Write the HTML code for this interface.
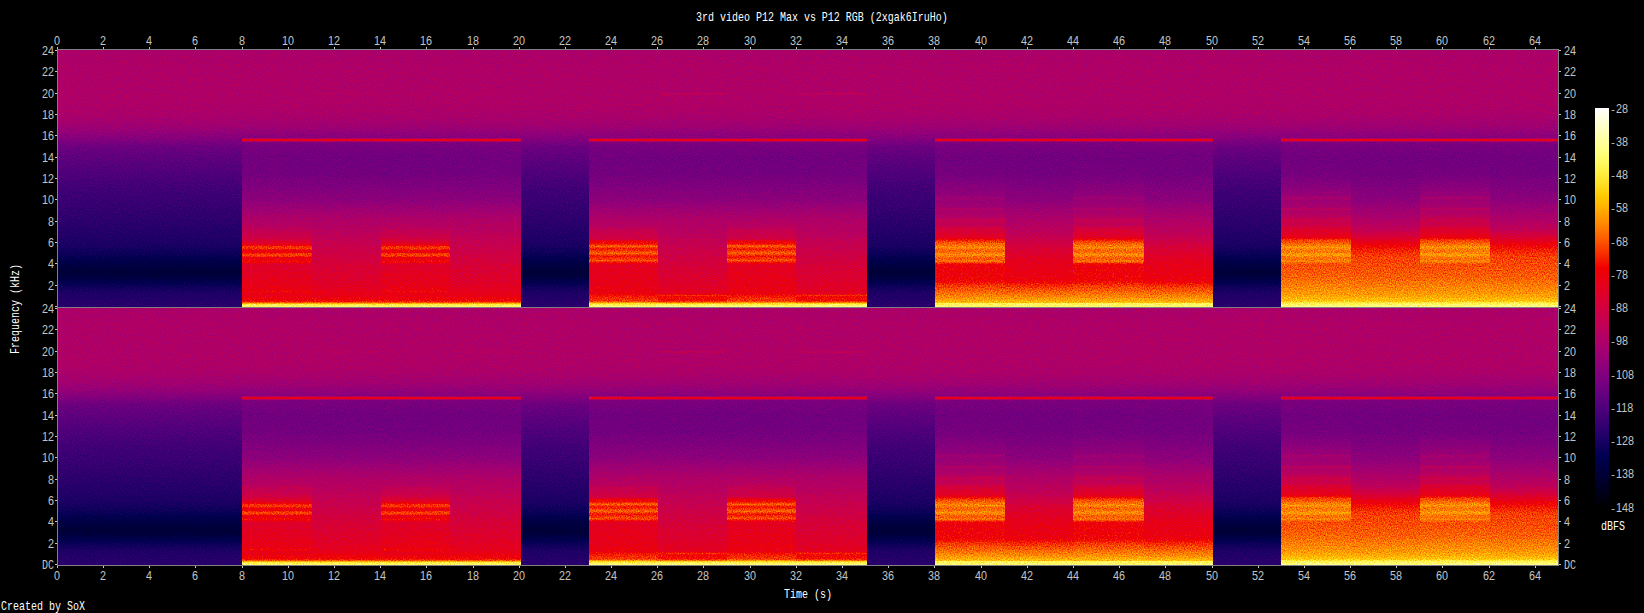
<!DOCTYPE html>
<html><head><meta charset="utf-8"><title>Spectrogram</title>
<style>
html,body{margin:0;padding:0;background:#000;}
body{width:1644px;height:613px;overflow:hidden;}
svg{display:block;}
text{font-family:"Liberation Mono","DejaVu Sans Mono",monospace;font-size:13.6px;}
text.n{font-family:"Liberation Sans","DejaVu Sans",sans-serif;font-size:12.5px;}
</style></head><body>
<svg width="1644" height="613" viewBox="0 0 1644 613" shape-rendering="crispEdges">
<defs>
<linearGradient id="gQ" x1="0" y1="0" x2="0" y2="1"><stop offset="0.0019" stop-color="#696969"/><stop offset="0.0642" stop-color="#6b6b6b"/><stop offset="0.2095" stop-color="#6b6b6b"/><stop offset="0.2510" stop-color="#696969"/><stop offset="0.2925" stop-color="#646464"/><stop offset="0.3257" stop-color="#5c5c5c"/><stop offset="0.3464" stop-color="#565656"/><stop offset="0.3755" stop-color="#4c4c4c"/><stop offset="0.4585" stop-color="#424242"/><stop offset="0.5415" stop-color="#3a3a3a"/><stop offset="0.6245" stop-color="#353535"/><stop offset="0.7075" stop-color="#2f2f2f"/><stop offset="0.7490" stop-color="#2c2c2c"/><stop offset="0.7905" stop-color="#262626"/><stop offset="0.8154" stop-color="#202020"/><stop offset="0.8403" stop-color="#1a1a1a"/><stop offset="0.8611" stop-color="#161616"/><stop offset="0.8818" stop-color="#181818"/><stop offset="0.9026" stop-color="#202020"/><stop offset="0.9233" stop-color="#272727"/><stop offset="0.9482" stop-color="#2d2d2d"/><stop offset="0.9981" stop-color="#313131"/></linearGradient>
<linearGradient id="gL1N" x1="0" y1="0" x2="0" y2="1"><stop offset="0.0019" stop-color="#696969"/><stop offset="0.0642" stop-color="#6b6b6b"/><stop offset="0.2095" stop-color="#6b6b6b"/><stop offset="0.2510" stop-color="#696969"/><stop offset="0.2925" stop-color="#646464"/><stop offset="0.3257" stop-color="#5c5c5c"/><stop offset="0.3464" stop-color="#565656"/><stop offset="0.3630" stop-color="#525252"/><stop offset="0.4170" stop-color="#4e4e4e"/><stop offset="0.4834" stop-color="#4f4f4f"/><stop offset="0.5830" stop-color="#5a5a5a"/><stop offset="0.6556" stop-color="#6a6a6a"/><stop offset="0.7075" stop-color="#717171"/><stop offset="0.7490" stop-color="#777777"/><stop offset="0.7905" stop-color="#7c7c7c"/><stop offset="0.8320" stop-color="#828282"/><stop offset="0.8735" stop-color="#868686"/><stop offset="0.9150" stop-color="#8a8a8a"/><stop offset="0.9524" stop-color="#909090"/><stop offset="0.9732" stop-color="#979797"/><stop offset="0.9806" stop-color="#9f9f9f"/><stop offset="0.9856" stop-color="#bbbbbb"/><stop offset="0.9906" stop-color="#d7d7d7"/><stop offset="0.9981" stop-color="#dddddd"/></linearGradient>
<linearGradient id="gL1B" x1="0" y1="0" x2="0" y2="1"><stop offset="0.0019" stop-color="#696969"/><stop offset="0.0642" stop-color="#6b6b6b"/><stop offset="0.2095" stop-color="#6b6b6b"/><stop offset="0.2510" stop-color="#696969"/><stop offset="0.2925" stop-color="#646464"/><stop offset="0.3257" stop-color="#5c5c5c"/><stop offset="0.3464" stop-color="#565656"/><stop offset="0.3630" stop-color="#525252"/><stop offset="0.4170" stop-color="#4e4e4e"/><stop offset="0.4834" stop-color="#4f4f4f"/><stop offset="0.5830" stop-color="#5a5a5a"/><stop offset="0.6556" stop-color="#6a6a6a"/><stop offset="0.6909" stop-color="#707070"/><stop offset="0.6992" stop-color="#757575"/><stop offset="0.7283" stop-color="#7b7b7b"/><stop offset="0.7490" stop-color="#888888"/><stop offset="0.7594" stop-color="#939393"/><stop offset="0.7648" stop-color="#a2a2a2"/><stop offset="0.7739" stop-color="#a4a4a4"/><stop offset="0.7793" stop-color="#939393"/><stop offset="0.7885" stop-color="#959595"/><stop offset="0.7926" stop-color="#a4a4a4"/><stop offset="0.8022" stop-color="#a6a6a6"/><stop offset="0.8071" stop-color="#939393"/><stop offset="0.8154" stop-color="#939393"/><stop offset="0.8217" stop-color="#999999"/><stop offset="0.8258" stop-color="#999999"/><stop offset="0.8300" stop-color="#8e8e8e"/><stop offset="0.8362" stop-color="#888888"/><stop offset="0.8735" stop-color="#8c8c8c"/><stop offset="0.9150" stop-color="#8f8f8f"/><stop offset="0.9337" stop-color="#929292"/><stop offset="0.9399" stop-color="#989898"/><stop offset="0.9462" stop-color="#929292"/><stop offset="0.9524" stop-color="#909090"/><stop offset="0.9732" stop-color="#979797"/><stop offset="0.9806" stop-color="#9f9f9f"/><stop offset="0.9856" stop-color="#bbbbbb"/><stop offset="0.9906" stop-color="#d7d7d7"/><stop offset="0.9981" stop-color="#dddddd"/></linearGradient>
<linearGradient id="gL2N" x1="0" y1="0" x2="0" y2="1"><stop offset="0.0019" stop-color="#696969"/><stop offset="0.0642" stop-color="#6b6b6b"/><stop offset="0.2095" stop-color="#6b6b6b"/><stop offset="0.2510" stop-color="#696969"/><stop offset="0.2925" stop-color="#646464"/><stop offset="0.3257" stop-color="#5c5c5c"/><stop offset="0.3464" stop-color="#565656"/><stop offset="0.3630" stop-color="#525252"/><stop offset="0.4170" stop-color="#4e4e4e"/><stop offset="0.4834" stop-color="#4f4f4f"/><stop offset="0.5830" stop-color="#5a5a5a"/><stop offset="0.6556" stop-color="#6a6a6a"/><stop offset="0.7075" stop-color="#707070"/><stop offset="0.7490" stop-color="#767676"/><stop offset="0.7905" stop-color="#7b7b7b"/><stop offset="0.8320" stop-color="#818181"/><stop offset="0.8735" stop-color="#858585"/><stop offset="0.9150" stop-color="#898989"/><stop offset="0.9482" stop-color="#8d8d8d"/><stop offset="0.9545" stop-color="#a2a2a2"/><stop offset="0.9607" stop-color="#979797"/><stop offset="0.9752" stop-color="#9b9b9b"/><stop offset="0.9815" stop-color="#a8a8a8"/><stop offset="0.9856" stop-color="#c8c8c8"/><stop offset="0.9898" stop-color="#d9d9d9"/><stop offset="0.9981" stop-color="#e1e1e1"/></linearGradient>
<linearGradient id="gL2B" x1="0" y1="0" x2="0" y2="1"><stop offset="0.0019" stop-color="#696969"/><stop offset="0.0642" stop-color="#6b6b6b"/><stop offset="0.2095" stop-color="#6b6b6b"/><stop offset="0.2510" stop-color="#696969"/><stop offset="0.2925" stop-color="#646464"/><stop offset="0.3257" stop-color="#5c5c5c"/><stop offset="0.3464" stop-color="#565656"/><stop offset="0.3630" stop-color="#525252"/><stop offset="0.4170" stop-color="#4e4e4e"/><stop offset="0.4834" stop-color="#4f4f4f"/><stop offset="0.5830" stop-color="#5a5a5a"/><stop offset="0.6556" stop-color="#6a6a6a"/><stop offset="0.6909" stop-color="#717171"/><stop offset="0.6992" stop-color="#777777"/><stop offset="0.7366" stop-color="#7e7e7e"/><stop offset="0.7428" stop-color="#939393"/><stop offset="0.7532" stop-color="#999999"/><stop offset="0.7636" stop-color="#aeaeae"/><stop offset="0.7739" stop-color="#9b9b9b"/><stop offset="0.7905" stop-color="#aeaeae"/><stop offset="0.8030" stop-color="#9b9b9b"/><stop offset="0.8196" stop-color="#aaaaaa"/><stop offset="0.8279" stop-color="#999999"/><stop offset="0.8341" stop-color="#8c8c8c"/><stop offset="0.8735" stop-color="#8e8e8e"/><stop offset="0.9150" stop-color="#909090"/><stop offset="0.9482" stop-color="#939393"/><stop offset="0.9586" stop-color="#9e9e9e"/><stop offset="0.9773" stop-color="#a4a4a4"/><stop offset="0.9823" stop-color="#b7b7b7"/><stop offset="0.9873" stop-color="#d2d2d2"/><stop offset="0.9981" stop-color="#e1e1e1"/></linearGradient>
<linearGradient id="gL3N" x1="0" y1="0" x2="0" y2="1"><stop offset="0.0019" stop-color="#696969"/><stop offset="0.0642" stop-color="#6b6b6b"/><stop offset="0.2095" stop-color="#6b6b6b"/><stop offset="0.2510" stop-color="#696969"/><stop offset="0.2925" stop-color="#646464"/><stop offset="0.3257" stop-color="#5c5c5c"/><stop offset="0.3464" stop-color="#565656"/><stop offset="0.3630" stop-color="#525252"/><stop offset="0.4170" stop-color="#4e4e4e"/><stop offset="0.4834" stop-color="#4f4f4f"/><stop offset="0.5830" stop-color="#5a5a5a"/><stop offset="0.6556" stop-color="#6a6a6a"/><stop offset="0.7075" stop-color="#727272"/><stop offset="0.7490" stop-color="#7d7d7d"/><stop offset="0.7802" stop-color="#858585"/><stop offset="0.8279" stop-color="#8e8e8e"/><stop offset="0.8735" stop-color="#929292"/><stop offset="0.8984" stop-color="#949494"/><stop offset="0.9150" stop-color="#a0a0a0"/><stop offset="0.9358" stop-color="#aaaaaa"/><stop offset="0.9649" stop-color="#b7b7b7"/><stop offset="0.9831" stop-color="#c4c4c4"/><stop offset="0.9864" stop-color="#dbdbdb"/><stop offset="0.9981" stop-color="#dedede"/></linearGradient>
<linearGradient id="gL3B" x1="0" y1="0" x2="0" y2="1"><stop offset="0.0019" stop-color="#696969"/><stop offset="0.0642" stop-color="#6b6b6b"/><stop offset="0.2095" stop-color="#6b6b6b"/><stop offset="0.2510" stop-color="#696969"/><stop offset="0.2925" stop-color="#646464"/><stop offset="0.3257" stop-color="#5c5c5c"/><stop offset="0.3464" stop-color="#565656"/><stop offset="0.3630" stop-color="#525252"/><stop offset="0.4170" stop-color="#4e4e4e"/><stop offset="0.4834" stop-color="#505050"/><stop offset="0.5664" stop-color="#5c5c5c"/><stop offset="0.5747" stop-color="#636363"/><stop offset="0.5872" stop-color="#5f5f5f"/><stop offset="0.6121" stop-color="#646464"/><stop offset="0.6183" stop-color="#6c6c6c"/><stop offset="0.6287" stop-color="#676767"/><stop offset="0.6536" stop-color="#6e6e6e"/><stop offset="0.6598" stop-color="#777777"/><stop offset="0.6785" stop-color="#747474"/><stop offset="0.6992" stop-color="#828282"/><stop offset="0.7304" stop-color="#8c8c8c"/><stop offset="0.7366" stop-color="#979797"/><stop offset="0.7428" stop-color="#a2a2a2"/><stop offset="0.7511" stop-color="#aaaaaa"/><stop offset="0.7594" stop-color="#b0b0b0"/><stop offset="0.7685" stop-color="#b6b6b6"/><stop offset="0.7781" stop-color="#adadad"/><stop offset="0.7864" stop-color="#aeaeae"/><stop offset="0.7972" stop-color="#b9b9b9"/><stop offset="0.8071" stop-color="#acacac"/><stop offset="0.8154" stop-color="#acacac"/><stop offset="0.8217" stop-color="#b2b2b2"/><stop offset="0.8271" stop-color="#a8a8a8"/><stop offset="0.8320" stop-color="#9a9a9a"/><stop offset="0.8362" stop-color="#959595"/><stop offset="0.8735" stop-color="#969696"/><stop offset="0.8984" stop-color="#979797"/><stop offset="0.9150" stop-color="#a3a3a3"/><stop offset="0.9358" stop-color="#ababab"/><stop offset="0.9649" stop-color="#b8b8b8"/><stop offset="0.9831" stop-color="#c4c4c4"/><stop offset="0.9864" stop-color="#dbdbdb"/><stop offset="0.9981" stop-color="#dedede"/></linearGradient>
<linearGradient id="gL4N" x1="0" y1="0" x2="0" y2="1"><stop offset="0.0019" stop-color="#696969"/><stop offset="0.0642" stop-color="#6b6b6b"/><stop offset="0.2095" stop-color="#6b6b6b"/><stop offset="0.2510" stop-color="#696969"/><stop offset="0.2925" stop-color="#646464"/><stop offset="0.3257" stop-color="#5c5c5c"/><stop offset="0.3464" stop-color="#565656"/><stop offset="0.3630" stop-color="#525252"/><stop offset="0.4170" stop-color="#4e4e4e"/><stop offset="0.4834" stop-color="#4f4f4f"/><stop offset="0.5830" stop-color="#5a5a5a"/><stop offset="0.6556" stop-color="#6a6a6a"/><stop offset="0.6992" stop-color="#757575"/><stop offset="0.7283" stop-color="#848484"/><stop offset="0.7573" stop-color="#959595"/><stop offset="0.7822" stop-color="#a0a0a0"/><stop offset="0.8071" stop-color="#a6a6a6"/><stop offset="0.8279" stop-color="#a7a7a7"/><stop offset="0.8860" stop-color="#acacac"/><stop offset="0.9524" stop-color="#bababa"/><stop offset="0.9773" stop-color="#c6c6c6"/><stop offset="0.9856" stop-color="#d9d9d9"/><stop offset="0.9981" stop-color="#e3e3e3"/></linearGradient>
<linearGradient id="gL4B" x1="0" y1="0" x2="0" y2="1"><stop offset="0.0019" stop-color="#696969"/><stop offset="0.0642" stop-color="#6b6b6b"/><stop offset="0.2095" stop-color="#6b6b6b"/><stop offset="0.2510" stop-color="#696969"/><stop offset="0.2925" stop-color="#646464"/><stop offset="0.3257" stop-color="#5c5c5c"/><stop offset="0.3464" stop-color="#565656"/><stop offset="0.3630" stop-color="#525252"/><stop offset="0.4170" stop-color="#4e4e4e"/><stop offset="0.4834" stop-color="#505050"/><stop offset="0.5664" stop-color="#5f5f5f"/><stop offset="0.5747" stop-color="#676767"/><stop offset="0.5872" stop-color="#626262"/><stop offset="0.6121" stop-color="#676767"/><stop offset="0.6183" stop-color="#727272"/><stop offset="0.6287" stop-color="#6a6a6a"/><stop offset="0.6536" stop-color="#737373"/><stop offset="0.6598" stop-color="#7b7b7b"/><stop offset="0.6785" stop-color="#797979"/><stop offset="0.6951" stop-color="#868686"/><stop offset="0.7283" stop-color="#909090"/><stop offset="0.7345" stop-color="#9b9b9b"/><stop offset="0.7407" stop-color="#a6a6a6"/><stop offset="0.7490" stop-color="#aaaaaa"/><stop offset="0.7573" stop-color="#b0b0b0"/><stop offset="0.7685" stop-color="#b9b9b9"/><stop offset="0.7781" stop-color="#b1b1b1"/><stop offset="0.7864" stop-color="#b2b2b2"/><stop offset="0.7972" stop-color="#bcbcbc"/><stop offset="0.8071" stop-color="#b1b1b1"/><stop offset="0.8154" stop-color="#b0b0b0"/><stop offset="0.8217" stop-color="#b6b6b6"/><stop offset="0.8279" stop-color="#adadad"/><stop offset="0.8362" stop-color="#a8a8a8"/><stop offset="0.8860" stop-color="#adadad"/><stop offset="0.9524" stop-color="#bbbbbb"/><stop offset="0.9773" stop-color="#c6c6c6"/><stop offset="0.9856" stop-color="#d9d9d9"/><stop offset="0.9981" stop-color="#e3e3e3"/></linearGradient>
<filter id="sp" x="0" y="0" width="100%" height="100%" filterUnits="objectBoundingBox" color-interpolation-filters="sRGB"><feTurbulence type="fractalNoise" baseFrequency="0.83 0.71" numOctaves="2" seed="7" result="t"/><feColorMatrix in="t" type="matrix" values="1 0 0 0 0  1 0 0 0 0  1 0 0 0 0  0 0 0 0 1" result="n"/><feComposite in="SourceGraphic" in2="n" operator="arithmetic" k1="0.21" k2="0.895" k3="0.05" k4="-0.025" result="m"/><feComponentTransfer in="m"><feFuncR type="table" tableValues="0.000 0.000 0.000 0.000 0.000 0.000 0.000 0.000 0.000 0.000 0.000 0.000 0.000 0.000 0.000 0.000 0.000 0.012 0.031 0.051 0.071 0.094 0.114 0.133 0.153 0.173 0.196 0.216 0.235 0.255 0.275 0.294 0.314 0.333 0.353 0.373 0.392 0.412 0.427 0.447 0.467 0.482 0.502 0.518 0.537 0.553 0.573 0.588 0.604 0.620 0.635 0.651 0.667 0.682 0.698 0.714 0.725 0.741 0.753 0.769 0.780 0.792 0.808 0.820 0.831 0.843 0.851 0.863 0.875 0.882 0.894 0.902 0.910 0.918 0.925 0.933 0.941 0.949 0.953 0.961 0.965 0.973 0.976 0.980 0.984 0.988 0.992 0.992 0.996 0.996 1.000 1.000 1.000 1.000 1.000 1.000 1.000 1.000 1.000 1.000 1.000 1.000 1.000 1.000 1.000 1.000 1.000 1.000 1.000 1.000 1.000 1.000 1.000 1.000 1.000 1.000 1.000 1.000 1.000 1.000 1.000 1.000 1.000 1.000 1.000 1.000 1.000 1.000"/><feFuncG type="table" tableValues="0.000 0.000 0.000 0.000 0.000 0.000 0.000 0.000 0.000 0.000 0.000 0.000 0.000 0.000 0.000 0.000 0.000 0.000 0.000 0.000 0.000 0.000 0.000 0.000 0.000 0.000 0.000 0.000 0.000 0.000 0.000 0.000 0.000 0.000 0.000 0.000 0.000 0.000 0.000 0.000 0.000 0.000 0.000 0.000 0.000 0.000 0.000 0.000 0.000 0.000 0.000 0.000 0.000 0.000 0.000 0.000 0.000 0.000 0.000 0.000 0.000 0.000 0.000 0.000 0.000 0.000 0.000 0.000 0.000 0.000 0.000 0.000 0.000 0.000 0.000 0.000 0.000 0.031 0.071 0.110 0.153 0.192 0.227 0.267 0.306 0.345 0.380 0.420 0.455 0.490 0.522 0.557 0.588 0.620 0.651 0.682 0.710 0.737 0.765 0.788 0.812 0.835 0.859 0.878 0.894 0.914 0.929 0.941 0.953 0.965 0.976 0.984 0.988 0.996 0.996 1.000 1.000 1.000 1.000 1.000 1.000 1.000 1.000 1.000 1.000 1.000 1.000 1.000"/><feFuncB type="table" tableValues="0.000 0.020 0.043 0.063 0.082 0.102 0.122 0.141 0.161 0.180 0.200 0.220 0.239 0.255 0.275 0.290 0.306 0.322 0.337 0.353 0.369 0.380 0.392 0.408 0.420 0.427 0.439 0.447 0.459 0.467 0.471 0.478 0.482 0.490 0.494 0.494 0.498 0.498 0.498 0.498 0.498 0.498 0.494 0.490 0.486 0.478 0.475 0.467 0.459 0.451 0.439 0.431 0.420 0.408 0.396 0.384 0.369 0.357 0.341 0.325 0.310 0.294 0.275 0.259 0.239 0.224 0.204 0.184 0.165 0.145 0.125 0.106 0.086 0.067 0.047 0.024 0.004 0.000 0.000 0.000 0.000 0.000 0.000 0.000 0.000 0.000 0.000 0.000 0.000 0.000 0.000 0.000 0.000 0.000 0.000 0.000 0.000 0.000 0.000 0.000 0.035 0.071 0.106 0.141 0.176 0.212 0.247 0.282 0.322 0.357 0.392 0.427 0.463 0.498 0.533 0.569 0.608 0.643 0.678 0.714 0.749 0.784 0.820 0.855 0.894 0.929 0.965 1.000"/></feComponentTransfer></filter>
<linearGradient id="cb" x1="0" y1="0" x2="0" y2="1"><stop offset="0.000" stop-color="#ffffff"/><stop offset="0.010" stop-color="#fffff3"/><stop offset="0.020" stop-color="#ffffe8"/><stop offset="0.030" stop-color="#ffffdc"/><stop offset="0.040" stop-color="#ffffd1"/><stop offset="0.050" stop-color="#ffffc5"/><stop offset="0.060" stop-color="#ffffb9"/><stop offset="0.070" stop-color="#ffffae"/><stop offset="0.080" stop-color="#ffffa2"/><stop offset="0.090" stop-color="#ffff97"/><stop offset="0.100" stop-color="#ffff8b"/><stop offset="0.110" stop-color="#fffe7f"/><stop offset="0.120" stop-color="#fffc74"/><stop offset="0.130" stop-color="#fffa68"/><stop offset="0.140" stop-color="#fff75d"/><stop offset="0.150" stop-color="#fff351"/><stop offset="0.160" stop-color="#ffef46"/><stop offset="0.170" stop-color="#ffea3a"/><stop offset="0.180" stop-color="#ffe52e"/><stop offset="0.190" stop-color="#ffdf23"/><stop offset="0.200" stop-color="#ffd817"/><stop offset="0.210" stop-color="#ffd10c"/><stop offset="0.220" stop-color="#ffca00"/><stop offset="0.230" stop-color="#ffc100"/><stop offset="0.240" stop-color="#ffb900"/><stop offset="0.250" stop-color="#ffb000"/><stop offset="0.260" stop-color="#ffa600"/><stop offset="0.270" stop-color="#ff9c00"/><stop offset="0.280" stop-color="#ff9200"/><stop offset="0.290" stop-color="#ff8700"/><stop offset="0.300" stop-color="#fe7c00"/><stop offset="0.310" stop-color="#fe7000"/><stop offset="0.320" stop-color="#fd6500"/><stop offset="0.330" stop-color="#fc5900"/><stop offset="0.340" stop-color="#fb4c00"/><stop offset="0.350" stop-color="#f94000"/><stop offset="0.360" stop-color="#f83300"/><stop offset="0.370" stop-color="#f62700"/><stop offset="0.380" stop-color="#f41a00"/><stop offset="0.390" stop-color="#f30d00"/><stop offset="0.400" stop-color="#f00000"/><stop offset="0.410" stop-color="#ee0007"/><stop offset="0.420" stop-color="#ec000d"/><stop offset="0.430" stop-color="#e90014"/><stop offset="0.440" stop-color="#e6001b"/><stop offset="0.450" stop-color="#e30021"/><stop offset="0.460" stop-color="#e00027"/><stop offset="0.470" stop-color="#dd002e"/><stop offset="0.480" stop-color="#d90034"/><stop offset="0.490" stop-color="#d6003a"/><stop offset="0.500" stop-color="#d20040"/><stop offset="0.510" stop-color="#ce0045"/><stop offset="0.520" stop-color="#ca004b"/><stop offset="0.530" stop-color="#c60050"/><stop offset="0.540" stop-color="#c20055"/><stop offset="0.550" stop-color="#be005a"/><stop offset="0.560" stop-color="#b9005f"/><stop offset="0.570" stop-color="#b40063"/><stop offset="0.580" stop-color="#b00067"/><stop offset="0.590" stop-color="#ab006b"/><stop offset="0.600" stop-color="#a6006e"/><stop offset="0.610" stop-color="#a00072"/><stop offset="0.620" stop-color="#9b0074"/><stop offset="0.630" stop-color="#960077"/><stop offset="0.640" stop-color="#900079"/><stop offset="0.650" stop-color="#8b007b"/><stop offset="0.660" stop-color="#85007d"/><stop offset="0.670" stop-color="#7f007e"/><stop offset="0.680" stop-color="#7a007f"/><stop offset="0.690" stop-color="#74007f"/><stop offset="0.700" stop-color="#6e0080"/><stop offset="0.710" stop-color="#68007f"/><stop offset="0.720" stop-color="#62007f"/><stop offset="0.730" stop-color="#5b007e"/><stop offset="0.740" stop-color="#55007d"/><stop offset="0.750" stop-color="#4f007b"/><stop offset="0.760" stop-color="#480079"/><stop offset="0.770" stop-color="#420077"/><stop offset="0.780" stop-color="#3c0074"/><stop offset="0.790" stop-color="#350072"/><stop offset="0.800" stop-color="#2e006e"/><stop offset="0.810" stop-color="#28006b"/><stop offset="0.820" stop-color="#210067"/><stop offset="0.830" stop-color="#1b0063"/><stop offset="0.840" stop-color="#14005f"/><stop offset="0.850" stop-color="#0d005a"/><stop offset="0.860" stop-color="#070055"/><stop offset="0.870" stop-color="#000050"/><stop offset="0.880" stop-color="#00004b"/><stop offset="0.890" stop-color="#000045"/><stop offset="0.900" stop-color="#000040"/><stop offset="0.910" stop-color="#00003a"/><stop offset="0.920" stop-color="#000034"/><stop offset="0.930" stop-color="#00002e"/><stop offset="0.940" stop-color="#000027"/><stop offset="0.950" stop-color="#000021"/><stop offset="0.960" stop-color="#00001b"/><stop offset="0.970" stop-color="#000014"/><stop offset="0.980" stop-color="#00000d"/><stop offset="0.990" stop-color="#000007"/><stop offset="1.000" stop-color="#000000"/></linearGradient>
</defs>
<rect width="1644" height="613" fill="#000"/>
<g filter="url(#sp)">
<rect x="58" y="50" width="1500" height="515" fill="#000"/>
<rect x="58" y="50" width="184" height="257" fill="url(#gQ)"/>
<rect x="242" y="50" width="70" height="257" fill="url(#gL1B)"/>
<rect x="312" y="50" width="69" height="257" fill="url(#gL1N)"/>
<rect x="381" y="50" width="69" height="257" fill="url(#gL1B)"/>
<rect x="450" y="50" width="71" height="257" fill="url(#gL1N)"/>
<rect x="521" y="50" width="68" height="257" fill="url(#gQ)"/>
<rect x="589" y="50" width="69" height="257" fill="url(#gL2B)"/>
<rect x="658" y="50" width="69" height="257" fill="url(#gL2N)"/>
<rect x="727" y="50" width="69" height="257" fill="url(#gL2B)"/>
<rect x="796" y="50" width="71" height="257" fill="url(#gL2N)"/>
<rect x="867" y="50" width="68" height="257" fill="url(#gQ)"/>
<rect x="935" y="50" width="70" height="257" fill="url(#gL3B)"/>
<rect x="1005" y="50" width="68" height="257" fill="url(#gL3N)"/>
<rect x="1073" y="50" width="71" height="257" fill="url(#gL3B)"/>
<rect x="1144" y="50" width="69" height="257" fill="url(#gL3N)"/>
<rect x="1213" y="50" width="68" height="257" fill="url(#gQ)"/>
<rect x="1281" y="50" width="70" height="257" fill="url(#gL4B)"/>
<rect x="1351" y="50" width="69" height="257" fill="url(#gL4N)"/>
<rect x="1420" y="50" width="70" height="257" fill="url(#gL4B)"/>
<rect x="1490" y="50" width="68" height="257" fill="url(#gL4N)"/>
<rect x="58" y="308" width="184" height="257" fill="url(#gQ)"/>
<rect x="242" y="308" width="70" height="257" fill="url(#gL1B)"/>
<rect x="312" y="308" width="69" height="257" fill="url(#gL1N)"/>
<rect x="381" y="308" width="69" height="257" fill="url(#gL1B)"/>
<rect x="450" y="308" width="71" height="257" fill="url(#gL1N)"/>
<rect x="521" y="308" width="68" height="257" fill="url(#gQ)"/>
<rect x="589" y="308" width="69" height="257" fill="url(#gL2B)"/>
<rect x="658" y="308" width="69" height="257" fill="url(#gL2N)"/>
<rect x="727" y="308" width="69" height="257" fill="url(#gL2B)"/>
<rect x="796" y="308" width="71" height="257" fill="url(#gL2N)"/>
<rect x="867" y="308" width="68" height="257" fill="url(#gQ)"/>
<rect x="935" y="308" width="70" height="257" fill="url(#gL3B)"/>
<rect x="1005" y="308" width="68" height="257" fill="url(#gL3N)"/>
<rect x="1073" y="308" width="71" height="257" fill="url(#gL3B)"/>
<rect x="1144" y="308" width="69" height="257" fill="url(#gL3N)"/>
<rect x="1213" y="308" width="68" height="257" fill="url(#gQ)"/>
<rect x="1281" y="308" width="70" height="257" fill="url(#gL4B)"/>
<rect x="1351" y="308" width="69" height="257" fill="url(#gL4N)"/>
<rect x="1420" y="308" width="70" height="257" fill="url(#gL4B)"/>
<rect x="1490" y="308" width="68" height="257" fill="url(#gL4N)"/>
<rect x="242" y="138" width="279" height="4" fill="#6a6a6a"/>
<rect x="242" y="139" width="279" height="2" fill="#909090"/>
<rect x="589" y="138" width="278" height="4" fill="#6a6a6a"/>
<rect x="589" y="139" width="278" height="2" fill="#909090"/>
<rect x="935" y="138" width="278" height="4" fill="#6a6a6a"/>
<rect x="935" y="139" width="278" height="2" fill="#909090"/>
<rect x="1281" y="138" width="277" height="4" fill="#6a6a6a"/>
<rect x="1281" y="139" width="277" height="2" fill="#909090"/>
<rect x="242" y="396" width="279" height="4" fill="#6a6a6a"/>
<rect x="242" y="397" width="279" height="2" fill="#909090"/>
<rect x="589" y="396" width="278" height="4" fill="#6a6a6a"/>
<rect x="589" y="397" width="278" height="2" fill="#909090"/>
<rect x="935" y="396" width="278" height="4" fill="#6a6a6a"/>
<rect x="935" y="397" width="278" height="2" fill="#909090"/>
<rect x="1281" y="396" width="277" height="4" fill="#6a6a6a"/>
<rect x="1281" y="397" width="277" height="2" fill="#909090"/>
<rect x="314" y="93" width="65" height="2" fill="#707070" opacity="0.8"/>
<rect x="452" y="93" width="67" height="2" fill="#6f6f6f" opacity="0.8"/>
<rect x="660" y="93" width="65" height="2" fill="#757575" opacity="0.8"/>
<rect x="798" y="93" width="67" height="2" fill="#757575" opacity="0.8"/>
<rect x="314" y="351" width="65" height="2" fill="#707070" opacity="0.8"/>
<rect x="452" y="351" width="67" height="2" fill="#6f6f6f" opacity="0.8"/>
<rect x="660" y="351" width="65" height="2" fill="#757575" opacity="0.8"/>
<rect x="798" y="351" width="67" height="2" fill="#757575" opacity="0.8"/>
</g>
<g fill="#808080">
<rect x="57" y="49" width="1502" height="1"/>
<rect x="57" y="565" width="1502" height="1"/>
<rect x="57" y="307" width="1502" height="1"/>
<rect x="57" y="49" width="1" height="517"/>
<rect x="1558" y="49" width="1" height="517"/>
</g>
<text class="n" transform="translate(54 45) scale(0.8630 1)" fill="#c4c4c4">0</text>
<text class="n" transform="translate(54 580) scale(0.8630 1)" fill="#c4c4c4">0</text>
<text class="n" transform="translate(100 45) scale(0.8630 1)" fill="#c4c4c4">2</text>
<text class="n" transform="translate(100 580) scale(0.8630 1)" fill="#c4c4c4">2</text>
<text class="n" transform="translate(146 45) scale(0.8630 1)" fill="#c4c4c4">4</text>
<text class="n" transform="translate(146 580) scale(0.8630 1)" fill="#c4c4c4">4</text>
<text class="n" transform="translate(192 45) scale(0.8630 1)" fill="#c4c4c4">6</text>
<text class="n" transform="translate(192 580) scale(0.8630 1)" fill="#c4c4c4">6</text>
<text class="n" transform="translate(239 45) scale(0.8630 1)" fill="#c4c4c4">8</text>
<text class="n" transform="translate(239 580) scale(0.8630 1)" fill="#c4c4c4">8</text>
<text class="n" transform="translate(282 45) scale(0.8630 1)" fill="#c4c4c4">10</text>
<text class="n" transform="translate(282 580) scale(0.8630 1)" fill="#c4c4c4">10</text>
<text class="n" transform="translate(328 45) scale(0.8630 1)" fill="#c4c4c4">12</text>
<text class="n" transform="translate(328 580) scale(0.8630 1)" fill="#c4c4c4">12</text>
<text class="n" transform="translate(374 45) scale(0.8630 1)" fill="#c4c4c4">14</text>
<text class="n" transform="translate(374 580) scale(0.8630 1)" fill="#c4c4c4">14</text>
<text class="n" transform="translate(420 45) scale(0.8630 1)" fill="#c4c4c4">16</text>
<text class="n" transform="translate(420 580) scale(0.8630 1)" fill="#c4c4c4">16</text>
<text class="n" transform="translate(467 45) scale(0.8630 1)" fill="#c4c4c4">18</text>
<text class="n" transform="translate(467 580) scale(0.8630 1)" fill="#c4c4c4">18</text>
<text class="n" transform="translate(513 45) scale(0.8630 1)" fill="#c4c4c4">20</text>
<text class="n" transform="translate(513 580) scale(0.8630 1)" fill="#c4c4c4">20</text>
<text class="n" transform="translate(559 45) scale(0.8630 1)" fill="#c4c4c4">22</text>
<text class="n" transform="translate(559 580) scale(0.8630 1)" fill="#c4c4c4">22</text>
<text class="n" transform="translate(605 45) scale(0.8630 1)" fill="#c4c4c4">24</text>
<text class="n" transform="translate(605 580) scale(0.8630 1)" fill="#c4c4c4">24</text>
<text class="n" transform="translate(651 45) scale(0.8630 1)" fill="#c4c4c4">26</text>
<text class="n" transform="translate(651 580) scale(0.8630 1)" fill="#c4c4c4">26</text>
<text class="n" transform="translate(697 45) scale(0.8630 1)" fill="#c4c4c4">28</text>
<text class="n" transform="translate(697 580) scale(0.8630 1)" fill="#c4c4c4">28</text>
<text class="n" transform="translate(744 45) scale(0.8630 1)" fill="#c4c4c4">30</text>
<text class="n" transform="translate(744 580) scale(0.8630 1)" fill="#c4c4c4">30</text>
<text class="n" transform="translate(790 45) scale(0.8630 1)" fill="#c4c4c4">32</text>
<text class="n" transform="translate(790 580) scale(0.8630 1)" fill="#c4c4c4">32</text>
<text class="n" transform="translate(836 45) scale(0.8630 1)" fill="#c4c4c4">34</text>
<text class="n" transform="translate(836 580) scale(0.8630 1)" fill="#c4c4c4">34</text>
<text class="n" transform="translate(882 45) scale(0.8630 1)" fill="#c4c4c4">36</text>
<text class="n" transform="translate(882 580) scale(0.8630 1)" fill="#c4c4c4">36</text>
<text class="n" transform="translate(928 45) scale(0.8630 1)" fill="#c4c4c4">38</text>
<text class="n" transform="translate(928 580) scale(0.8630 1)" fill="#c4c4c4">38</text>
<text class="n" transform="translate(975 45) scale(0.8630 1)" fill="#c4c4c4">40</text>
<text class="n" transform="translate(975 580) scale(0.8630 1)" fill="#c4c4c4">40</text>
<text class="n" transform="translate(1021 45) scale(0.8630 1)" fill="#c4c4c4">42</text>
<text class="n" transform="translate(1021 580) scale(0.8630 1)" fill="#c4c4c4">42</text>
<text class="n" transform="translate(1067 45) scale(0.8630 1)" fill="#c4c4c4">44</text>
<text class="n" transform="translate(1067 580) scale(0.8630 1)" fill="#c4c4c4">44</text>
<text class="n" transform="translate(1113 45) scale(0.8630 1)" fill="#c4c4c4">46</text>
<text class="n" transform="translate(1113 580) scale(0.8630 1)" fill="#c4c4c4">46</text>
<text class="n" transform="translate(1159 45) scale(0.8630 1)" fill="#c4c4c4">48</text>
<text class="n" transform="translate(1159 580) scale(0.8630 1)" fill="#c4c4c4">48</text>
<text class="n" transform="translate(1206 45) scale(0.8630 1)" fill="#c4c4c4">50</text>
<text class="n" transform="translate(1206 580) scale(0.8630 1)" fill="#c4c4c4">50</text>
<text class="n" transform="translate(1252 45) scale(0.8630 1)" fill="#c4c4c4">52</text>
<text class="n" transform="translate(1252 580) scale(0.8630 1)" fill="#c4c4c4">52</text>
<text class="n" transform="translate(1298 45) scale(0.8630 1)" fill="#c4c4c4">54</text>
<text class="n" transform="translate(1298 580) scale(0.8630 1)" fill="#c4c4c4">54</text>
<text class="n" transform="translate(1344 45) scale(0.8630 1)" fill="#c4c4c4">56</text>
<text class="n" transform="translate(1344 580) scale(0.8630 1)" fill="#c4c4c4">56</text>
<text class="n" transform="translate(1390 45) scale(0.8630 1)" fill="#c4c4c4">58</text>
<text class="n" transform="translate(1390 580) scale(0.8630 1)" fill="#c4c4c4">58</text>
<text class="n" transform="translate(1436 45) scale(0.8630 1)" fill="#c4c4c4">60</text>
<text class="n" transform="translate(1436 580) scale(0.8630 1)" fill="#c4c4c4">60</text>
<text class="n" transform="translate(1483 45) scale(0.8630 1)" fill="#c4c4c4">62</text>
<text class="n" transform="translate(1483 580) scale(0.8630 1)" fill="#c4c4c4">62</text>
<text class="n" transform="translate(1529 45) scale(0.8630 1)" fill="#c4c4c4">64</text>
<text class="n" transform="translate(1529 580) scale(0.8630 1)" fill="#c4c4c4">64</text>
<text class="n" transform="translate(48 290) scale(0.8630 1)" fill="#c4c4c4">2</text>
<text class="n" transform="translate(1564 290) scale(0.8630 1)" fill="#c4c4c4">2</text>
<text class="n" transform="translate(48 268) scale(0.8630 1)" fill="#c4c4c4">4</text>
<text class="n" transform="translate(1564 268) scale(0.8630 1)" fill="#c4c4c4">4</text>
<text class="n" transform="translate(48 247) scale(0.8630 1)" fill="#c4c4c4">6</text>
<text class="n" transform="translate(1564 247) scale(0.8630 1)" fill="#c4c4c4">6</text>
<text class="n" transform="translate(48 226) scale(0.8630 1)" fill="#c4c4c4">8</text>
<text class="n" transform="translate(1564 226) scale(0.8630 1)" fill="#c4c4c4">8</text>
<text class="n" transform="translate(42 204) scale(0.8630 1)" fill="#c4c4c4">10</text>
<text class="n" transform="translate(1564 204) scale(0.8630 1)" fill="#c4c4c4">10</text>
<text class="n" transform="translate(42 183) scale(0.8630 1)" fill="#c4c4c4">12</text>
<text class="n" transform="translate(1564 183) scale(0.8630 1)" fill="#c4c4c4">12</text>
<text class="n" transform="translate(42 162) scale(0.8630 1)" fill="#c4c4c4">14</text>
<text class="n" transform="translate(1564 162) scale(0.8630 1)" fill="#c4c4c4">14</text>
<text class="n" transform="translate(42 140) scale(0.8630 1)" fill="#c4c4c4">16</text>
<text class="n" transform="translate(1564 140) scale(0.8630 1)" fill="#c4c4c4">16</text>
<text class="n" transform="translate(42 119) scale(0.8630 1)" fill="#c4c4c4">18</text>
<text class="n" transform="translate(1564 119) scale(0.8630 1)" fill="#c4c4c4">18</text>
<text class="n" transform="translate(42 98) scale(0.8630 1)" fill="#c4c4c4">20</text>
<text class="n" transform="translate(1564 98) scale(0.8630 1)" fill="#c4c4c4">20</text>
<text class="n" transform="translate(42 76) scale(0.8630 1)" fill="#c4c4c4">22</text>
<text class="n" transform="translate(1564 76) scale(0.8630 1)" fill="#c4c4c4">22</text>
<text class="n" transform="translate(42 55) scale(0.8630 1)" fill="#c4c4c4">24</text>
<text class="n" transform="translate(1564 55) scale(0.8630 1)" fill="#c4c4c4">24</text>
<text transform="translate(42 569) scale(0.7353 1)" fill="#c4c4c4">DC</text>
<text transform="translate(1564 569) scale(0.7353 1)" fill="#c4c4c4">DC</text>
<text class="n" transform="translate(48 548) scale(0.8630 1)" fill="#c4c4c4">2</text>
<text class="n" transform="translate(1564 548) scale(0.8630 1)" fill="#c4c4c4">2</text>
<text class="n" transform="translate(48 526) scale(0.8630 1)" fill="#c4c4c4">4</text>
<text class="n" transform="translate(1564 526) scale(0.8630 1)" fill="#c4c4c4">4</text>
<text class="n" transform="translate(48 505) scale(0.8630 1)" fill="#c4c4c4">6</text>
<text class="n" transform="translate(1564 505) scale(0.8630 1)" fill="#c4c4c4">6</text>
<text class="n" transform="translate(48 484) scale(0.8630 1)" fill="#c4c4c4">8</text>
<text class="n" transform="translate(1564 484) scale(0.8630 1)" fill="#c4c4c4">8</text>
<text class="n" transform="translate(42 462) scale(0.8630 1)" fill="#c4c4c4">10</text>
<text class="n" transform="translate(1564 462) scale(0.8630 1)" fill="#c4c4c4">10</text>
<text class="n" transform="translate(42 441) scale(0.8630 1)" fill="#c4c4c4">12</text>
<text class="n" transform="translate(1564 441) scale(0.8630 1)" fill="#c4c4c4">12</text>
<text class="n" transform="translate(42 420) scale(0.8630 1)" fill="#c4c4c4">14</text>
<text class="n" transform="translate(1564 420) scale(0.8630 1)" fill="#c4c4c4">14</text>
<text class="n" transform="translate(42 398) scale(0.8630 1)" fill="#c4c4c4">16</text>
<text class="n" transform="translate(1564 398) scale(0.8630 1)" fill="#c4c4c4">16</text>
<text class="n" transform="translate(42 377) scale(0.8630 1)" fill="#c4c4c4">18</text>
<text class="n" transform="translate(1564 377) scale(0.8630 1)" fill="#c4c4c4">18</text>
<text class="n" transform="translate(42 356) scale(0.8630 1)" fill="#c4c4c4">20</text>
<text class="n" transform="translate(1564 356) scale(0.8630 1)" fill="#c4c4c4">20</text>
<text class="n" transform="translate(42 334) scale(0.8630 1)" fill="#c4c4c4">22</text>
<text class="n" transform="translate(1564 334) scale(0.8630 1)" fill="#c4c4c4">22</text>
<text class="n" transform="translate(42 313) scale(0.8630 1)" fill="#c4c4c4">24</text>
<text class="n" transform="translate(1564 313) scale(0.8630 1)" fill="#c4c4c4">24</text>
<g fill="#c4c4c4">
<rect x="57" y="47" width="1" height="2"/>
<rect x="57" y="566" width="1" height="2"/>
<rect x="103" y="47" width="1" height="2"/>
<rect x="103" y="566" width="1" height="2"/>
<rect x="149" y="47" width="1" height="2"/>
<rect x="149" y="566" width="1" height="2"/>
<rect x="195" y="47" width="1" height="2"/>
<rect x="195" y="566" width="1" height="2"/>
<rect x="242" y="47" width="1" height="2"/>
<rect x="242" y="566" width="1" height="2"/>
<rect x="288" y="47" width="1" height="2"/>
<rect x="288" y="566" width="1" height="2"/>
<rect x="334" y="47" width="1" height="2"/>
<rect x="334" y="566" width="1" height="2"/>
<rect x="380" y="47" width="1" height="2"/>
<rect x="380" y="566" width="1" height="2"/>
<rect x="426" y="47" width="1" height="2"/>
<rect x="426" y="566" width="1" height="2"/>
<rect x="473" y="47" width="1" height="2"/>
<rect x="473" y="566" width="1" height="2"/>
<rect x="519" y="47" width="1" height="2"/>
<rect x="519" y="566" width="1" height="2"/>
<rect x="565" y="47" width="1" height="2"/>
<rect x="565" y="566" width="1" height="2"/>
<rect x="611" y="47" width="1" height="2"/>
<rect x="611" y="566" width="1" height="2"/>
<rect x="657" y="47" width="1" height="2"/>
<rect x="657" y="566" width="1" height="2"/>
<rect x="703" y="47" width="1" height="2"/>
<rect x="703" y="566" width="1" height="2"/>
<rect x="750" y="47" width="1" height="2"/>
<rect x="750" y="566" width="1" height="2"/>
<rect x="796" y="47" width="1" height="2"/>
<rect x="796" y="566" width="1" height="2"/>
<rect x="842" y="47" width="1" height="2"/>
<rect x="842" y="566" width="1" height="2"/>
<rect x="888" y="47" width="1" height="2"/>
<rect x="888" y="566" width="1" height="2"/>
<rect x="934" y="47" width="1" height="2"/>
<rect x="934" y="566" width="1" height="2"/>
<rect x="981" y="47" width="1" height="2"/>
<rect x="981" y="566" width="1" height="2"/>
<rect x="1027" y="47" width="1" height="2"/>
<rect x="1027" y="566" width="1" height="2"/>
<rect x="1073" y="47" width="1" height="2"/>
<rect x="1073" y="566" width="1" height="2"/>
<rect x="1119" y="47" width="1" height="2"/>
<rect x="1119" y="566" width="1" height="2"/>
<rect x="1165" y="47" width="1" height="2"/>
<rect x="1165" y="566" width="1" height="2"/>
<rect x="1212" y="47" width="1" height="2"/>
<rect x="1212" y="566" width="1" height="2"/>
<rect x="1258" y="47" width="1" height="2"/>
<rect x="1258" y="566" width="1" height="2"/>
<rect x="1304" y="47" width="1" height="2"/>
<rect x="1304" y="566" width="1" height="2"/>
<rect x="1350" y="47" width="1" height="2"/>
<rect x="1350" y="566" width="1" height="2"/>
<rect x="1396" y="47" width="1" height="2"/>
<rect x="1396" y="566" width="1" height="2"/>
<rect x="1442" y="47" width="1" height="2"/>
<rect x="1442" y="566" width="1" height="2"/>
<rect x="1489" y="47" width="1" height="2"/>
<rect x="1489" y="566" width="1" height="2"/>
<rect x="1535" y="47" width="1" height="2"/>
<rect x="1535" y="566" width="1" height="2"/>
<rect x="55" y="306" width="2" height="1"/>
<rect x="1559" y="306" width="2" height="1"/>
<rect x="55" y="285" width="2" height="1"/>
<rect x="1559" y="285" width="2" height="1"/>
<rect x="55" y="263" width="2" height="1"/>
<rect x="1559" y="263" width="2" height="1"/>
<rect x="55" y="242" width="2" height="1"/>
<rect x="1559" y="242" width="2" height="1"/>
<rect x="55" y="221" width="2" height="1"/>
<rect x="1559" y="221" width="2" height="1"/>
<rect x="55" y="199" width="2" height="1"/>
<rect x="1559" y="199" width="2" height="1"/>
<rect x="55" y="178" width="2" height="1"/>
<rect x="1559" y="178" width="2" height="1"/>
<rect x="55" y="157" width="2" height="1"/>
<rect x="1559" y="157" width="2" height="1"/>
<rect x="55" y="135" width="2" height="1"/>
<rect x="1559" y="135" width="2" height="1"/>
<rect x="55" y="114" width="2" height="1"/>
<rect x="1559" y="114" width="2" height="1"/>
<rect x="55" y="93" width="2" height="1"/>
<rect x="1559" y="93" width="2" height="1"/>
<rect x="55" y="71" width="2" height="1"/>
<rect x="1559" y="71" width="2" height="1"/>
<rect x="55" y="50" width="2" height="1"/>
<rect x="1559" y="50" width="2" height="1"/>
<rect x="55" y="564" width="2" height="1"/>
<rect x="1559" y="564" width="2" height="1"/>
<rect x="55" y="543" width="2" height="1"/>
<rect x="1559" y="543" width="2" height="1"/>
<rect x="55" y="521" width="2" height="1"/>
<rect x="1559" y="521" width="2" height="1"/>
<rect x="55" y="500" width="2" height="1"/>
<rect x="1559" y="500" width="2" height="1"/>
<rect x="55" y="479" width="2" height="1"/>
<rect x="1559" y="479" width="2" height="1"/>
<rect x="55" y="457" width="2" height="1"/>
<rect x="1559" y="457" width="2" height="1"/>
<rect x="55" y="436" width="2" height="1"/>
<rect x="1559" y="436" width="2" height="1"/>
<rect x="55" y="415" width="2" height="1"/>
<rect x="1559" y="415" width="2" height="1"/>
<rect x="55" y="393" width="2" height="1"/>
<rect x="1559" y="393" width="2" height="1"/>
<rect x="55" y="372" width="2" height="1"/>
<rect x="1559" y="372" width="2" height="1"/>
<rect x="55" y="351" width="2" height="1"/>
<rect x="1559" y="351" width="2" height="1"/>
<rect x="55" y="329" width="2" height="1"/>
<rect x="1559" y="329" width="2" height="1"/>
<rect x="55" y="308" width="2" height="1"/>
<rect x="1559" y="308" width="2" height="1"/>
</g>
<text transform="translate(696 21) scale(0.7353 1)" fill="#ffffff">3rd video P12 Max vs P12 RGB (2xgak6IruHo)</text>
<text transform="translate(784 598) scale(0.7353 1)" fill="#ffffff">Time (s)</text>
<text transform="translate(1 610) scale(0.7353 1)" fill="#ffffff">Created by SoX</text>
<text transform="translate(19 354) rotate(-90) scale(0.7353 1)" fill="#ffffff">Frequency (kHz)</text>
<text transform="translate(1601 530) scale(0.7353 1)" fill="#ffffff">dBFS</text>
<rect x="1595" y="108" width="14" height="400" fill="url(#cb)"/>
<text class="n" transform="translate(1610 113) scale(0.8630 1)" fill="#c4c4c4"><tspan font-family="Liberation Mono,monospace" font-size="11.59px">-</tspan>28</text>
<text class="n" transform="translate(1610 146) scale(0.8630 1)" fill="#c4c4c4"><tspan font-family="Liberation Mono,monospace" font-size="11.59px">-</tspan>38</text>
<text class="n" transform="translate(1610 179) scale(0.8630 1)" fill="#c4c4c4"><tspan font-family="Liberation Mono,monospace" font-size="11.59px">-</tspan>48</text>
<text class="n" transform="translate(1610 212) scale(0.8630 1)" fill="#c4c4c4"><tspan font-family="Liberation Mono,monospace" font-size="11.59px">-</tspan>58</text>
<text class="n" transform="translate(1610 246) scale(0.8630 1)" fill="#c4c4c4"><tspan font-family="Liberation Mono,monospace" font-size="11.59px">-</tspan>68</text>
<text class="n" transform="translate(1610 279) scale(0.8630 1)" fill="#c4c4c4"><tspan font-family="Liberation Mono,monospace" font-size="11.59px">-</tspan>78</text>
<text class="n" transform="translate(1610 312) scale(0.8630 1)" fill="#c4c4c4"><tspan font-family="Liberation Mono,monospace" font-size="11.59px">-</tspan>88</text>
<text class="n" transform="translate(1610 345) scale(0.8630 1)" fill="#c4c4c4"><tspan font-family="Liberation Mono,monospace" font-size="11.59px">-</tspan>98</text>
<text class="n" transform="translate(1610 379) scale(0.8630 1)" fill="#c4c4c4"><tspan font-family="Liberation Mono,monospace" font-size="11.59px">-</tspan>108</text>
<text class="n" transform="translate(1610 412) scale(0.8630 1)" fill="#c4c4c4"><tspan font-family="Liberation Mono,monospace" font-size="11.59px">-</tspan>118</text>
<text class="n" transform="translate(1610 445) scale(0.8630 1)" fill="#c4c4c4"><tspan font-family="Liberation Mono,monospace" font-size="11.59px">-</tspan>128</text>
<text class="n" transform="translate(1610 478) scale(0.8630 1)" fill="#c4c4c4"><tspan font-family="Liberation Mono,monospace" font-size="11.59px">-</tspan>138</text>
<text class="n" transform="translate(1610 512) scale(0.8630 1)" fill="#c4c4c4"><tspan font-family="Liberation Mono,monospace" font-size="11.59px">-</tspan>148</text>
</svg>
</body></html>
